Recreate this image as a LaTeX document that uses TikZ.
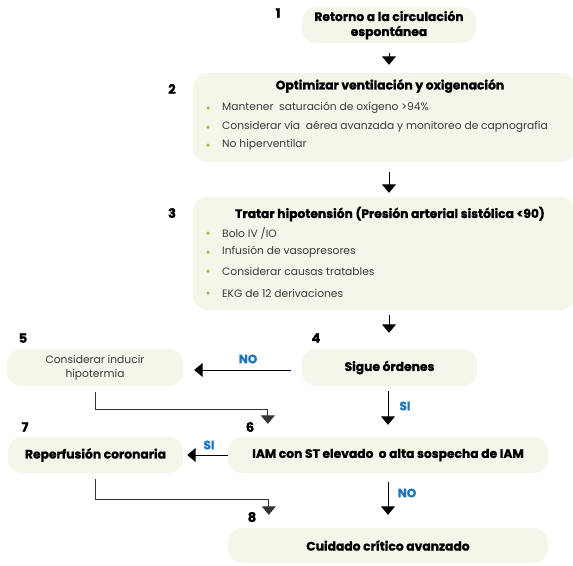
\documentclass[tikz,border=0pt]{standalone}
\usepackage{fontspec}
\setmainfont{Poppins}[BoldFeatures={FakeBold=1.2}]
\usetikzlibrary{arrows.meta,calc}
\definecolor{boxfill}{HTML}{F3F6E8}
\definecolor{bulletgreen}{HTML}{8CC63F}
\definecolor{lblblue}{HTML}{1B75BB}
\definecolor{bodygray}{HTML}{3A3A3A}

\begin{document}
\begin{tikzpicture}[x=1pt,y=-1pt,
  box/.style={draw=none, fill=boxfill, rounded corners=14pt, inner sep=0pt},
  head/.style={font=\fontsize{12.3}{15}\selectfont\bfseries, text=black, align=center, inner sep=0pt},
  body/.style={font=\fontsize{10.7}{12}\selectfont, text=bodygray, anchor=west, inner sep=0pt},
  num/.style={font=\fontsize{13}{14}\selectfont\bfseries, inner sep=0pt},
  flow/.style={-{Triangle[width=14pt,length=8.5pt]}, line width=1pt},
  elbow/.style={-{Triangle[width=14pt,length=8.5pt]}, line width=1pt, draw=black!80},
  yesno/.style={font=\fontsize{12}{13}\selectfont\bfseries, text=lblblue, inner sep=0pt},
  dot/.style={circle, fill=bulletgreen, inner sep=0pt, minimum size=3.5pt}
]
\useasboundingbox (0,0) rectangle (573,565);

% boxes
\node[box, minimum width=174pt, minimum height=36pt] (b1) at (389,25) {};
\node[box, minimum width=382pt, minimum height=89pt] (b2) at (384,117.5) {};
\node[box, minimum width=382pt, minimum height=113pt] (b3) at (384,253.5) {};
\node[box, minimum width=175pt, minimum height=37pt] (b4) at (389.5,367.5) {};
\node[box, minimum width=176pt, minimum height=37pt] (b5) at (95,367.5) {};
\node[box, minimum width=320pt, minimum height=36pt] (b6) at (388,455) {};
\node[box, minimum width=175pt, minimum height=36pt] (b7) at (95.5,455) {};
\node[box, minimum width=320pt, minimum height=35pt] (b8) at (388,545.5) {};

% box texts
\node[head] (t1) at (389,25) {Retorno a la circulación\\espontánea};
\node[head] (t2) at (390,86) {Optimizar ventilación y oxigenación};
\node[dot] (d21) at (208,108) {};
\node[body] (l21) at (222,108) {Mantener\ \ saturación de oxígeno >94\%};
\node[dot] (d22) at (208,127) {};
\node[body] (l22) at (222,127) {Considerar vía\ \ aérea avanzada y monitoreo de capnografía};
\node[dot] (d23) at (208,145) {};
\node[body] (l23) at (222,145) {No hiperventilar};

\node[head] (t3) at (390,214) {Tratar hipotensión (Presión arterial sistólica <90)};
\node[dot] (d31) at (208,233) {};
\node[body] (l31) at (222,233) {Bolo IV /IO};
\node[dot] (d32) at (208,252) {};
\node[body] (l32) at (222,252) {Infusión de vasopresores};
\node[dot] (d33) at (208,271) {};
\node[body] (l33) at (222,271) {Considerar causas tratables};
\node[dot] (d34) at (208,293) {};
\node[body] (l34) at (222,293) {EKG de 12 derivaciones};

\node[head] (t4) at (b4) {Sigue órdenes};
\node[font=\fontsize{10.7}{14}\selectfont, text=bodygray, align=center, inner sep=0pt] (t5) at (b5) {Considerar inducir\\hipotermia};
\node[head] (t6) at (b6) {IAM con ST elevado\ \ o alta sospecha de IAM};
\node[head] (t7) at (b7) {Reperfusión coronaria};
\node[head] (t8) at (b8) {Cuidado crítico avanzado};

% step numbers
\node[num] (n1) at (278,13) {1};
\node[num] (n2) at (172,89) {2};
\node[num] (n3) at (172,213) {3};
\node[num] (n4) at (316,338) {4};
\node[num] (n5) at (23,338) {5};
\node[num] (n6) at (250,427) {6};
\node[num] (n7) at (25,427) {7};
\node[num] (n8) at (252,517) {8};

% decision labels
\node[yesno] (no1) at (248,359) {NO};
\node[yesno] (si1) at (405,406) {SI};
\node[yesno] (si2) at (209,445) {SI};
\node[yesno] (no2) at (407,493) {NO};

% connectors
\draw[flow] ($(b1.south)+(0,10)$) -- ($(b1.south |- b2.north)+(0,-8)$);
\draw[flow] ($(b1.south |- b2.south)+(0,10)$) -- ($(b1.south |- b3.north)+(0,-4)$);
\draw[flow] ($(b1.south |- b3.south)+(0,5)$) -- ($(b1.south |- b4.north)+(0,-16)$);
\draw[flow] ($(b4.west)+(-11,2.5)$) -- ($(b5.east)+(11,2.5)$);
\draw[flow] ($(b4.south)+(-1.5,5)$) -- ($(b4.south |- b6.north)+(-1.5,-12)$);
\draw[flow] (b6.west) -- ($(b7.east)+(4,0)$);
\draw[flow] ($(b4.south |- b6.south)+(-1.5,9)$) -- ($(b4.south |- b8.north)+(-1.5,-13)$);
\draw[elbow] ($(b5.south)+(0,6)$) -- ++(0,17) -| ($(b6.north west)+(40,-13)$);
\draw[elbow] ($(b7.south)+(0,6)$) -- ++(0,20) -| ($(b8.north west)+(41,-13)$);
\end{tikzpicture}
\end{document}
